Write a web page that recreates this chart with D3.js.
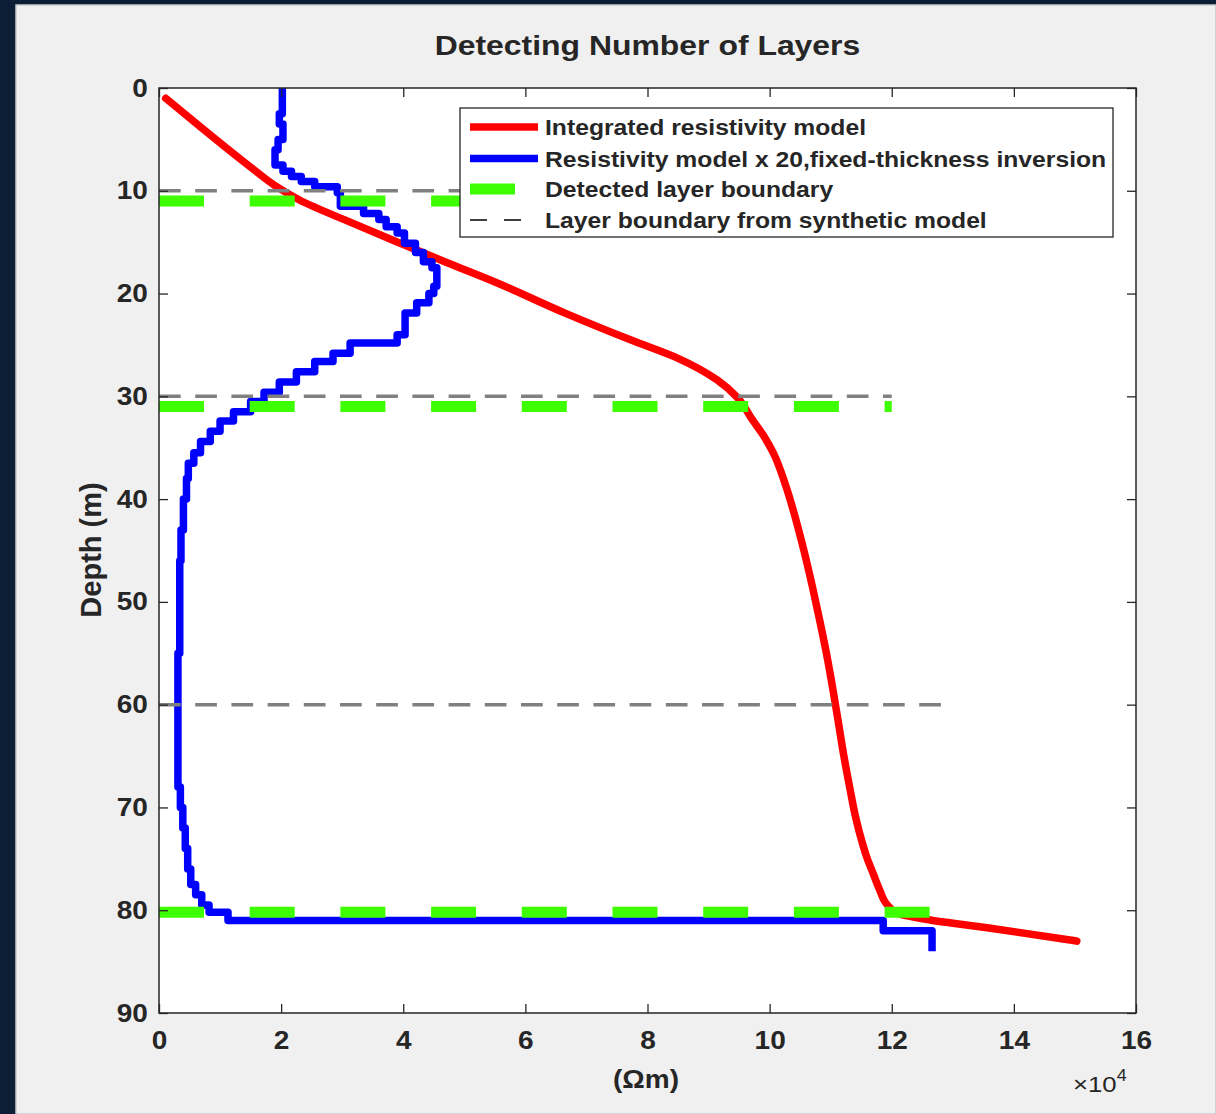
<!DOCTYPE html>
<html>
<head>
<meta charset="utf-8">
<script src="https://cdn.jsdelivr.net/npm/d3@7"></script>
<style>
  html, body { margin: 0; padding: 0; background: #0c1e36; }
  svg { display: block; }
  text { font-family: "Liberation Sans", Arial, Helvetica, sans-serif; font-weight: bold; fill: #262626; }
</style>
</head>
<body>
<svg id="fig" width="1216" height="1114"></svg>
<script>
// ---- data (resistivity in units of 1e4 ohm-m, depth in m) ----
const xTicks = [0, 2, 4, 6, 8, 10, 12, 14, 16];
const yTicks = [0, 10, 20, 30, 40, 50, 60, 70, 80, 90];

// Integrated resistivity model
const integratedRes = [0.11, 0.52, 0.95, 1.5, 1.9, 2.3, 3.15, 3.95, 4.72, 5.55, 6.65, 7.72, 8.5, 9.14, 9.47, 9.72, 9.92, 10.06, 10.27, 10.43, 10.57, 10.7, 10.82, 10.93, 11.03, 11.12, 11.21, 11.31, 11.41, 11.52, 11.6, 11.7, 11.8, 11.93, 12.09, 12.63, 13.56, 15.03];
const integratedDepth = [1.0, 3.0, 5.1, 7.7, 9.5, 10.9, 13.1, 15.1, 17.0, 19.0, 21.9, 24.5, 26.3, 28.4, 30.1, 32.3, 34.0, 35.5, 38.8, 42.0, 45.2, 48.5, 51.8, 55.0, 58.3, 61.5, 64.8, 68.0, 71.0, 73.5, 75.0, 76.5, 78.0, 79.5, 80.3, 80.95, 81.7, 83.0];

// Fixed-thickness inversion (x20): layer tops and layer values
const layerTop = [0, 2.5, 3.5, 5, 6, 7.5, 8.1, 8.6, 9.1, 9.6, 10.2, 11.5, 12.2, 12.8, 13.5, 14.1, 15.1, 16, 16.9, 17.5, 19.3, 20, 20.9, 21.9, 24.0, 24.8, 25.8, 26.6, 27.6, 28.6, 29.6, 30.5, 31.5, 32.4, 33.4, 34.4, 35.5, 36.5, 38, 40, 43, 46, 55, 68, 70, 72, 74, 76, 77.5, 78.5, 79.5, 80.2, 81, 82];
const layerValue = [2.02, 1.97, 2.03, 1.95, 1.9, 2.03, 2.17, 2.33, 2.55, 2.92, 2.97, 3.35, 3.6, 3.72, 3.9, 4.02, 4.2, 4.33, 4.47, 4.55, 4.5, 4.42, 4.22, 4.03, 3.9, 3.13, 2.85, 2.55, 2.25, 1.97, 1.72, 1.5, 1.22, 1.0, 0.84, 0.68, 0.57, 0.48, 0.45, 0.4, 0.36, 0.34, 0.31, 0.35, 0.39, 0.43, 0.47, 0.52, 0.6, 0.7, 0.82, 1.13, 11.86, 12.66];
const inversionBottom = 84;

// Boundaries
const detectedDepth = [11, 31, 80.2];
const detectedEnd = [12, 12, 12.63];
const syntheticDepth = [10, 30, 60];
const syntheticEnd = [12, 12, 12.82];

const legendLabels = [
  "Integrated resistivity model",
  "Resistivity model x 20,fixed-thickness inversion",
  "Detected layer boundary",
  "Layer boundary from synthetic model"
];

// ---- layout ----
const W = 1216, H = 1114;
const plot = { left: 159, right: 1136, top: 88, bottom: 1013 };
const SX = 1.12; // horizontal stretch of the text glyphs

const svg = d3.select("#fig");

// figure panel
svg.append("rect").attr("x", 16).attr("y", 5).attr("width", W - 16).attr("height", H - 5)
  .attr("fill", "#f0f0f0").attr("stroke", "#c9c9c9").attr("stroke-width", 1.5);

const x = d3.scaleLinear().domain([0, 16]).range([plot.left, plot.right]);
const y = d3.scaleLinear().domain([0, 90]).range([plot.top, plot.bottom]);

svg.append("rect").attr("x", plot.left).attr("y", plot.top)
  .attr("width", plot.right - plot.left).attr("height", plot.bottom - plot.top)
  .attr("fill", "#ffffff");

svg.append("clipPath").attr("id", "plotClip").append("rect")
  .attr("x", plot.left).attr("y", plot.top)
  .attr("width", plot.right - plot.left).attr("height", plot.bottom - plot.top);

const layer = svg.append("g").attr("clip-path", "url(#plotClip)");

// integrated resistivity (red)
const redPts = integratedRes.map((v, i) => [v, integratedDepth[i]]);
const smoothLine = d3.line().x(d => x(d[0])).y(d => y(d[1])).curve(d3.curveMonotoneY);
layer.append("path").attr("d", smoothLine(redPts))
  .attr("fill", "none").attr("stroke", "#ff0000").attr("stroke-width", 7.5)
  .attr("stroke-linejoin", "round").attr("stroke-linecap", "round");

// inversion staircase (blue)
const bluePts = [];
layerValue.forEach((v, i) => {
  const top = layerTop[i];
  const bot = i + 1 < layerTop.length ? layerTop[i + 1] : inversionBottom;
  bluePts.push([v, top], [v, bot]);
});
layer.append("path").attr("d", d3.line().x(d => x(d[0])).y(d => y(d[1]))(bluePts))
  .attr("fill", "none").attr("stroke", "#0000ff").attr("stroke-width", 7.5)
  .attr("stroke-linejoin", "round").attr("stroke-linecap", "butt");

// detected boundaries (green dashed)
detectedDepth.forEach((d, i) => {
  layer.append("line")
    .attr("x1", x(0)).attr("x2", x(detectedEnd[i]))
    .attr("y1", y(d)).attr("y2", y(d))
    .attr("stroke", "#3dff00").attr("stroke-width", 11)
    .attr("stroke-dasharray", "45 45.7");
});

// synthetic model boundaries (grey dashed)
syntheticDepth.forEach((d, i) => {
  layer.append("line")
    .attr("x1", x(0)).attr("x2", x(syntheticEnd[i]))
    .attr("y1", y(d)).attr("y2", y(d))
    .attr("stroke", "#808080").attr("stroke-width", 3.5)
    .attr("stroke-dasharray", "21.7 14.5");
});

// ---- axes ----
const axisColor = "#262626";
function styleAxis(g) {
  g.select(".domain").remove();
  g.selectAll(".tick line").attr("stroke", axisColor).attr("stroke-width", 1.3);
}

const gx = svg.append("g").attr("transform", `translate(0,${plot.bottom})`)
  .call(d3.axisBottom(x).tickValues(xTicks).tickSizeInner(-9).tickSizeOuter(0).tickPadding(18));
styleAxis(gx);
gx.selectAll(".tick text").attr("fill", axisColor).style("font-size", "25px")
  .attr("transform", `scale(${SX},1)`);

const gxt = svg.append("g").attr("transform", `translate(0,${plot.top})`)
  .call(d3.axisTop(x).tickValues(xTicks).tickSizeInner(-9).tickSizeOuter(0).tickFormat(""));
styleAxis(gxt);

const gy = svg.append("g").attr("transform", `translate(${plot.left},0)`)
  .call(d3.axisLeft(y).tickValues(yTicks).tickSizeInner(-9).tickSizeOuter(0).tickPadding(10));
styleAxis(gy);
gy.selectAll(".tick text").attr("fill", axisColor).style("font-size", "25px")
  .attr("transform", `scale(${SX},1)`);

const gyr = svg.append("g").attr("transform", `translate(${plot.right},0)`)
  .call(d3.axisRight(y).tickValues(yTicks).tickSizeInner(-9).tickSizeOuter(0).tickFormat(""));
styleAxis(gyr);

svg.append("rect").attr("x", plot.left).attr("y", plot.top)
  .attr("width", plot.right - plot.left).attr("height", plot.bottom - plot.top)
  .attr("fill", "none").attr("stroke", axisColor).attr("stroke-width", 1.5);

// ---- text ----
function stretched(xp, yp, str, size, anchor, sx) {
  return svg.append("text")
    .attr("transform", `translate(${xp},${yp}) scale(${sx === undefined ? SX : sx},1)`)
    .attr("text-anchor", anchor).style("font-size", size + "px").text(str);
}

stretched((plot.left + plot.right) / 2, 55, "Detecting Number of Layers", 28.5, "middle").attr("fill", "#111");
stretched(646, 1088, "(\u03A9m)", 25, "middle");
const mult = stretched(1073, 1092, "", 23, "start");
mult.style("font-weight", "normal");
mult.append("tspan").text("\u00D710");
mult.append("tspan").attr("dy", -11).style("font-size", "16px").text("4");

svg.append("text")
  .attr("transform", `translate(101,550) rotate(-90)`)
  .attr("text-anchor", "middle").style("font-size", "29px").text("Depth (m)");

// ---- legend ----
const lg = { x: 460, y: 108, w: 653, h: 129 };
svg.append("rect").attr("x", lg.x).attr("y", lg.y).attr("width", lg.w).attr("height", lg.h)
  .attr("fill", "#ffffff").attr("stroke", "#262626").attr("stroke-width", 1.3);

const rowY = [127, 158.5, 189, 220];
svg.append("line").attr("x1", 470).attr("x2", 538).attr("y1", rowY[0]).attr("y2", rowY[0])
  .attr("stroke", "#ff0000").attr("stroke-width", 7.5);
svg.append("line").attr("x1", 470).attr("x2", 538).attr("y1", rowY[1]).attr("y2", rowY[1])
  .attr("stroke", "#0000ff").attr("stroke-width", 7.5);
svg.append("line").attr("x1", 470).attr("x2", 538).attr("y1", rowY[2]).attr("y2", rowY[2])
  .attr("stroke", "#3dff00").attr("stroke-width", 11).attr("stroke-dasharray", "45 45.7");
svg.append("line").attr("x1", 470).attr("x2", 528).attr("y1", rowY[3]).attr("y2", rowY[3])
  .attr("stroke", "#000").attr("stroke-width", 1.6).attr("stroke-dasharray", "17 17");

legendLabels.forEach((t, i) => {
  stretched(545, rowY[i] + 8, t, 22, "start", 1.123);
});
</script>
</body>
</html>
